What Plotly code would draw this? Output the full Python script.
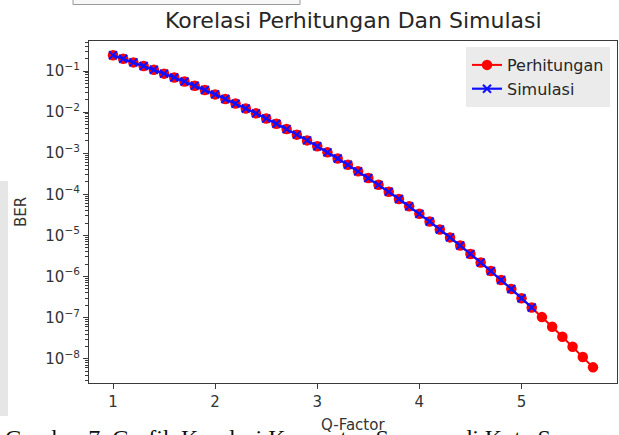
import plotly.graph_objects as go

# ---- data ----
q_calc = [1.0, 1.1, 1.2, 1.3, 1.4, 1.5, 1.6, 1.7, 1.8, 1.9,
          2.0, 2.1, 2.2, 2.3, 2.4, 2.5, 2.6, 2.7, 2.8, 2.9,
          3.0, 3.1, 3.2, 3.3, 3.4, 3.5, 3.6, 3.7, 3.8, 3.9,
          4.0, 4.1, 4.2, 4.3, 4.4, 4.5, 4.6, 4.7, 4.8, 4.9,
          5.0, 5.1, 5.2, 5.3, 5.4, 5.5, 5.6, 5.7]
ber_calc = [0.242, 0.198, 0.162, 0.132, 0.107, 0.0863, 0.0693, 0.0553, 0.0439, 0.0345,
            0.0270, 0.0209, 0.0161, 0.0123, 0.00933, 0.00701, 0.00522, 0.00386, 0.00283, 0.00205,
            1.48e-3, 1.05e-3, 7.45e-4, 5.22e-4, 3.62e-4, 2.49e-4, 1.70e-4, 1.15e-4, 7.69e-5, 5.10e-5,
            3.35e-5, 2.18e-5, 1.40e-5, 8.96e-6, 5.67e-6, 3.55e-6, 2.20e-6, 1.36e-6, 8.25e-7, 4.98e-7,
            2.97e-7, 1.76e-7, 1.03e-7, 5.98e-8, 3.44e-8, 1.96e-8, 1.10e-8, 6.17e-9]

q_sim = [1.0, 1.1, 1.2, 1.3, 1.4, 1.5, 1.6, 1.7, 1.8, 1.9,
         2.0, 2.1, 2.2, 2.3, 2.4, 2.5, 2.6, 2.7, 2.8, 2.9,
         3.0, 3.1, 3.2, 3.3, 3.4, 3.5, 3.6, 3.7, 3.8, 3.9,
         4.0, 4.1, 4.2, 4.3, 4.4, 4.5, 4.6, 4.7, 4.8, 4.9,
         5.0, 5.1]
ber_sim = [0.242, 0.198, 0.162, 0.132, 0.107, 0.0863, 0.0693, 0.0553, 0.0439, 0.0345,
           0.0270, 0.0209, 0.0161, 0.0123, 0.00933, 0.00701, 0.00522, 0.00386, 0.00283, 0.00205,
           1.48e-3, 1.05e-3, 7.45e-4, 5.22e-4, 3.62e-4, 2.49e-4, 1.70e-4, 1.15e-4, 7.69e-5, 5.10e-5,
           3.35e-5, 2.18e-5, 1.40e-5, 8.96e-6, 5.67e-6, 3.55e-6, 2.20e-6, 1.36e-6, 8.25e-7, 4.98e-7,
           2.97e-7, 1.76e-7]

x_ticks = [1, 2, 3, 4, 5]
y_exps = [-1, -2, -3, -4, -5, -6, -7, -8]
title_text = "Korelasi Perhitungan Dan Simulasi"
x_label = "Q-Factor"
y_label = "BER"
caption = "Gambar 7. Grafik Korelasi Kecepatan Suasana di Kota Semarang"

FONT = "DejaVu Sans"
W, H = 619, 435
L, R, T, B = 89, 2, 41, 52
PW, PH = W - L - R, H - T - B


def px_x(p):
    return (p - L) / PW


def px_y(p):
    return (H - B - p) / PH


y_tickvals = [10.0 ** e for e in y_exps]
y_ticktext = ["10<sup>\u2212%d</sup>" % (-e) for e in y_exps]
minor_vals = [m * 10.0 ** e for e in range(-9, 0) for m in range(2, 10)]

fig = go.Figure()
fig.add_trace(go.Scatter(
    x=q_calc, y=ber_calc, mode="lines+markers", name="Perhitungan",
    line=dict(color="#ff0000", width=2),
    marker=dict(symbol="circle", size=10.5, color="#ff0000"),
))
fig.add_trace(go.Scatter(
    x=q_sim, y=ber_sim, mode="lines+markers", name="Simulasi",
    line=dict(color="#1010ff", width=2.2),
    marker=dict(symbol="x-thin", size=8, color="#1010ff",
                line=dict(color="#1010ff", width=2)),
))

axis_common = dict(
    showline=True, linecolor="#3a3a3a", linewidth=1.2, mirror=True,
    showgrid=False, zeroline=False, ticks="outside", ticklen=5,
    tickcolor="#3a3a3a", tickwidth=1,
    tickfont=dict(family=FONT, size=15, color="#333333"),
)

fig.update_xaxes(range=[0.765, 5.935], tickvals=x_ticks,
                 ticktext=[str(v) for v in x_ticks], **axis_common)
fig.update_yaxes(type="log", range=[-8.59, -0.27], tickvals=y_tickvals,
                 ticktext=y_ticktext,
                 minor=dict(tickvals=minor_vals, ticks="outside", ticklen=2.5,
                            tickcolor="#3a3a3a", showgrid=False),
                 **axis_common)

annotations = [
    dict(text=title_text, xref="paper", yref="paper", x=0.5, y=px_y(20),
         xanchor="center", yanchor="middle", showarrow=False,
         font=dict(family=FONT, size=22, color="#262626")),
    dict(text=x_label, xref="paper", yref="paper", x=0.5, y=px_y(425),
         xanchor="center", yanchor="middle", showarrow=False,
         font=dict(family=FONT, size=15, color="#333333")),
    dict(text=y_label, xref="paper", yref="paper", x=px_x(21), y=0.5,
         xanchor="center", yanchor="middle", showarrow=False, textangle=-90,
         font=dict(family=FONT, size=15, color="#333333")),
    dict(text=caption, xref="paper", yref="paper", x=px_x(3), y=px_y(423),
         xanchor="left", yanchor="top", showarrow=False,
         font=dict(family="Liberation Serif", size=24, color="#111111")),
]

shapes = [
    dict(type="rect", xref="paper", yref="paper",
         x0=px_x(-2), x1=px_x(8), y0=px_y(416), y1=px_y(181),
         fillcolor="#e6e6e6", line=dict(width=0), layer="below"),
    dict(type="rect", xref="paper", yref="paper",
         x0=px_x(73), x1=px_x(300), y0=px_y(4.5), y1=px_y(-3),
         fillcolor="#f7f7f7", line=dict(color="#9a9a9a", width=1), layer="below"),
]

fig.update_layout(
    width=W, height=H,
    margin=dict(l=L, r=R, t=T, b=B, pad=0),
    paper_bgcolor="white", plot_bgcolor="white",
    font=dict(family=FONT, color="#333333"),
    showlegend=True,
    legend=dict(x=px_x(610), y=px_y(47), xanchor="right", yanchor="top",
                bgcolor="#ebebeb", bordercolor="#ebebeb", borderwidth=1,
                font=dict(family=FONT, size=16, color="#262626"),
                itemwidth=30, tracegroupgap=0),
    annotations=annotations,
    shapes=shapes,
)

fig.write_html("out.html")
